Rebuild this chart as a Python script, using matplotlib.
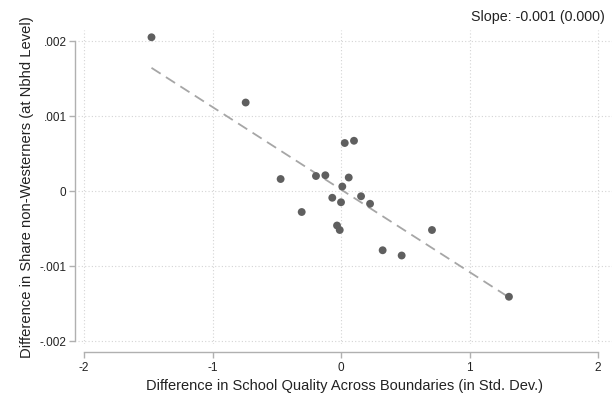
import matplotlib

matplotlib.use("Agg")
import matplotlib.pyplot as plt
import numpy as np

plt.rcParams["font.family"] = ["Liberation Sans", "DejaVu Sans"]

# Neighbourhood pairs: school quality gap vs. share gap
quality_diff = [-1.475, -0.742, -0.47, -0.306, -0.195, -0.122, 0.029, 0.101,
                0.06, 0.01, -0.068, 0.0, 0.156, 0.226, -0.031, -0.01,
                0.708, 0.324, 0.472, 1.307]
share_diff = [0.00205, 0.00118, 0.00016, -0.00028, 0.0002, 0.00021, 0.00064,
              0.00067, 0.00018, 0.00006, -0.00009, -0.00015, -0.00007,
              -0.00017, -0.00046, -0.00052, -0.00052, -0.00079, -0.00086,
              -0.00141]
# fitted line (from the underlying regression)
fit_slope = -0.0011
fit_intercept = 0.00002
x_ticks = [-2, -1, 0, 1, 2]
y_ticks = [-0.002, -0.001, 0, 0.001, 0.002]
y_tick_labels = ["-.002", "-.001", "0", ".001", ".002"]
slope_label = "Slope: -0.001 (0.000)"

W, H = 614, 396
fig = plt.figure(figsize=(W / 100, H / 100), dpi=100)
ax = fig.add_axes([78 / W, 1 - 344 / H, (612 - 78) / W, (344 - 30) / H])

x = np.array(quality_diff)
y = np.array(share_diff)
xs = np.array([x.min(), x.max()])

ax.plot(xs, fit_intercept + fit_slope * xs, color="#a6a6a6", lw=1.3,
        ls=(0, (6, 3.5)), zorder=2)
ax.scatter(x, y, s=32, color="#5f5f5f", edgecolor="none", zorder=3)

ax.set_xlim(-2.047, 2.109)
ax.set_ylim(-0.00204, 0.002147)
ax.set_xticks(x_ticks)
ax.set_xticklabels([str(t) for t in x_ticks])
ax.set_yticks(y_ticks)
ax.set_yticklabels(y_tick_labels)

ax.grid(True, color="#d4d4d4", lw=0.8, ls=(0, (1, 2)))
ax.set_axisbelow(True)

for s in ("top", "right"):
    ax.spines[s].set_visible(False)
ax.spines["left"].set_position(("outward", 2.2))
ax.spines["bottom"].set_position(("outward", 5.8))
ax.spines["left"].set_bounds(-0.002, 0.002)
ax.spines["bottom"].set_bounds(-2, 2)
for s in ("left", "bottom"):
    ax.spines[s].set_color("#b0b0b0")
    ax.spines[s].set_linewidth(1.0)

ax.tick_params(axis="both", colors="#b0b0b0", labelcolor="#222222",
               labelsize=8.5, length=4, width=1.0)
ax.tick_params(axis="x", pad=3)
ax.tick_params(axis="y", pad=2)

ax.set_xlabel("Difference in School Quality Across Boundaries (in Std. Dev.)",
              fontsize=10.5, color="#222222", labelpad=4)
ax.set_ylabel("Difference in Share non-Westerners (at Nbhd Level)",
              fontsize=10.6, color="#222222", labelpad=4)

fig.text(605 / W, 1 - 17 / H, slope_label, ha="right", va="center",
         fontsize=10.3, color="#222222")

fig.savefig("out.png", dpi=100)
